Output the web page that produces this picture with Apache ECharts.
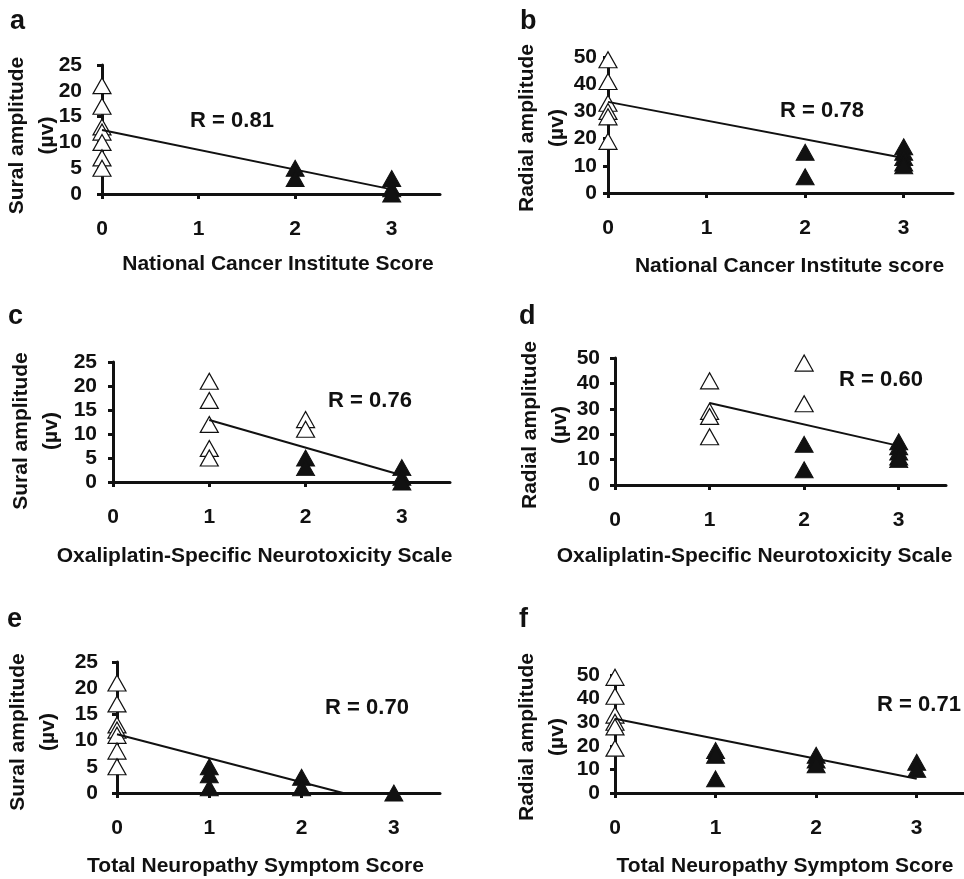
<!DOCTYPE html>
<html>
<head>
<meta charset="utf-8">
<script src="https://cdn.jsdelivr.net/npm/echarts@6/dist/echarts.min.js"></script>
<style>
html,body{margin:0;padding:0;background:#fff;}
#chart{width:964px;height:879px;}
</style>
</head>
<body>
<div id="chart"></div>
<script>
// ---- tick values ----
const xTicks = [0, 1, 2, 3];
const yTicksSural = [0, 5, 10, 15, 20, 25];
const yTicksRadial = [0, 10, 20, 30, 40, 50];

// ---- panel a: sural amplitude vs NCI score ----
const aOpen = [[0, 21], [0, 17], [0, 13], [0, 12], [0, 10], [0, 7], [0, 5]];
const aFilled = [[2, 5], [2, 3], [3, 3], [3, 1], [3, 0]];
const aFit = [[0, 12.4], [3, 0.9]];

// ---- panel b: radial amplitude vs NCI score ----
const bOpen = [[0, 49], [0, 41], [0, 33], [0, 30], [0, 28], [0, 19]];
const bFilled = [[2, 15], [2, 6], [3, 17], [3, 15], [3, 13], [3, 11], [3, 10]];
const bFit = [[0, 33.5], [3, 12.9]];

// ---- panel c: sural amplitude vs OSNS ----
const cOpen = [[1, 21], [1, 17], [1, 12], [1, 7], [1, 5], [2, 13], [2, 11]];
const cFilled = [[2, 5], [2, 3], [3, 3], [3, 1], [3, 0]];
const cFit = [[1, 12.9], [3, 1.4]];

// ---- panel d: radial amplitude vs OSNS ----
const dOpen = [[1, 41], [1, 29], [1, 27], [1, 19], [2, 48], [2, 32]];
const dFilled = [[2, 16], [2, 6], [3, 17], [3, 15], [3, 13], [3, 11], [3, 10]];
const dFit = [[1, 32.3], [3, 15.4]];

// ---- panel e: sural amplitude vs TNSS ----
const eOpen = [[0, 21], [0, 17], [0, 13], [0, 12], [0, 11], [0, 8], [0, 5]];
const eFilled = [[1, 5], [1, 3.5], [1, 1], [2, 3], [2, 1], [3, 0]];
const eFit = [[0, 11.2], [2.45, 0]];

// ---- panel f: radial amplitude vs TNSS ----
const fOpen = [[0, 49], [0, 41], [0, 33], [0, 30], [0, 28], [0, 19]];
const fFilled = [[1, 18], [1, 16], [1, 6], [2, 16], [2, 14], [2, 12], [3, 13], [3, 10]];
const fFit = [[0, 31.5], [3, 6]];

// ---- texts ----
const panelLetters = ['a', 'b', 'c', 'd', 'e', 'f'];
const xTitles = ['National Cancer Institute Score', 'National Cancer Institute score',
  'Oxaliplatin-Specific Neurotoxicity Scale', 'Oxaliplatin-Specific Neurotoxicity Scale',
  'Total Neuropathy Symptom Score', 'Total Neuropathy Symptom Score'];
const yTitles = ['Sural amplitude\n(\u00b5v)', 'Radial amplitude\n(\u00b5v)',
  'Sural amplitude\n(\u00b5v)', 'Radial amplitude\n(\u00b5v)',
  'Sural amplitude\n(\u00b5v)', 'Radial amplitude\n(\u00b5v)'];
const rLabels = ['R = 0.81', 'R = 0.78', 'R = 0.76', 'R = 0.60', 'R = 0.70', 'R = 0.71'];

const panelData = [
  {open: aOpen, filled: aFilled, fit: aFit, yTicks: yTicksSural},
  {open: bOpen, filled: bFilled, fit: bFit, yTicks: yTicksRadial},
  {open: cOpen, filled: cFilled, fit: cFit, yTicks: yTicksSural},
  {open: dOpen, filled: dFilled, fit: dFit, yTicks: yTicksRadial},
  {open: eOpen, filled: eFilled, fit: eFit, yTicks: yTicksSural},
  {open: fOpen, filled: fFilled, fit: fFit, yTicks: yTicksRadial}
];

// ---- layout (styles / positions) ----
const FONT = '"Liberation Sans", Arial, Helvetica, sans-serif';
const INK = '#111';
const layout = [
  {grid: {left: 102, top: 65, width: 338, height: 129}, yGap: 40, yShift: 12, yLabelMargin: 20, xGap: 60, xShift: 7,
   letter: [10, 20], r: [232, 121]},
  {grid: {left: 608, top: 57, width: 345, height: 136}, yGap: 36, yShift: 6, yLabelMargin: 11, xGap: 63, xShift: 9,
   letter: [520, 20], r: [822, 111]},
  {grid: {left: 113, top: 362, width: 337, height: 120}, yGap: 47, yShift: 18, yLabelMargin: 16, xGap: 64, xShift: -27,
   letter: [8, 315], r: [370, 401]},
  {grid: {left: 615, top: 358, width: 331, height: 127}, yGap: 40, yShift: 7, yLabelMargin: 15, xGap: 61, xShift: -26,
   letter: [519, 315], r: [881, 380]},
  {grid: {left: 117, top: 662, width: 323, height: 131}, yGap: 54, yShift: 9, yLabelMargin: 19, xGap: 63, xShift: -23,
   letter: [7, 618], r: [367, 708]},
  {grid: {left: 615, top: 675, width: 352, height: 118}, yGap: 43, yShift: 6, yLabelMargin: 15, xGap: 63, xShift: -6,
   letter: [519, 618], r: [919, 705]}
];

const grids = [], xAxes = [], yAxes = [], series = [], graphics = [];
panelData.forEach(function (p, i) {
  const L = layout[i];
  grids.push(Object.assign({outerBoundsMode: 'none', containLabel: false}, L.grid));
  const shift = L.xShift;
  xAxes.push({
    gridIndex: i, type: 'value', min: 0, max: 3.5, interval: 1,
    name: xTitles[i], nameLocation: 'middle', nameGap: L.xGap, nameMoveOverlap: false,
    nameTextStyle: {fontFamily: FONT, fontWeight: 'bold', fontSize: 21, color: INK,
      padding: shift >= 0 ? [0, 0, 0, 2 * shift] : [0, -2 * shift, 0, 0]},
    axisLine: {show: true, onZero: false, lineStyle: {color: INK, width: 3}},
    axisTick: {show: true, inside: false, length: 5, customValues: xTicks, lineStyle: {color: INK, width: 3}},
    axisLabel: {show: true, margin: 25, customValues: xTicks, fontFamily: FONT, fontWeight: 'bold', fontSize: 21, color: INK},
    splitLine: {show: false}
  });
  const yt = p.yTicks;
  yAxes.push({
    gridIndex: i, type: 'value', min: yt[0], max: yt[yt.length - 1], interval: yt[1] - yt[0],
    name: yTitles[i], nameLocation: 'middle', nameGap: L.yGap, nameRotate: 90, nameMoveOverlap: false,
    nameTextStyle: {fontFamily: FONT, fontWeight: 'bold', fontSize: 21, color: INK, lineHeight: 30,
      padding: [0, L.yShift, 0, 0]},
    axisLine: {show: true, onZero: false, lineStyle: {color: INK, width: 3}},
    axisTick: {show: true, inside: false, length: 5, lineStyle: {color: INK, width: 3}},
    axisLabel: {show: true, margin: L.yLabelMargin, fontFamily: FONT, fontWeight: 'bold', fontSize: 21, color: INK},
    splitLine: {show: false}
  });
  series.push({
    type: 'line', xAxisIndex: i, yAxisIndex: i, data: p.fit, symbol: 'none', clip: false,
    lineStyle: {color: INK, width: 2}, z: 3, silent: true, animation: false
  });
  series.push({
    type: 'scatter', xAxisIndex: i, yAxisIndex: i, data: p.open, symbol: 'triangle', symbolSize: [18, 16],
    clip: false, itemStyle: {color: '#fff', borderColor: INK, borderWidth: 1.2, opacity: 1}, z: 2, animation: false
  });
  series.push({
    type: 'scatter', xAxisIndex: i, yAxisIndex: i, data: p.filled, symbol: 'triangle', symbolSize: [18, 16],
    clip: false, itemStyle: {color: INK, borderColor: INK, borderWidth: 1, opacity: 1}, z: 4, animation: false
  });
  graphics.push({
    type: 'text', left: L.letter[0], top: L.letter[1] - 12,
    style: {text: panelLetters[i], font: 'bold 27px ' + FONT, fill: INK}
  });
  graphics.push({
    type: 'text', x: L.r[0], y: L.r[1],
    style: {text: rLabels[i], font: 'bold 22px ' + FONT, fill: INK, align: 'center', verticalAlign: 'middle'}
  });
});

const chart = echarts.init(document.getElementById('chart'), null, {renderer: 'canvas'});
chart.setOption({
  animation: false,
  backgroundColor: '#fff',
  grid: grids,
  xAxis: xAxes,
  yAxis: yAxes,
  series: series,
  graphic: graphics
});
</script>
</body>
</html>
